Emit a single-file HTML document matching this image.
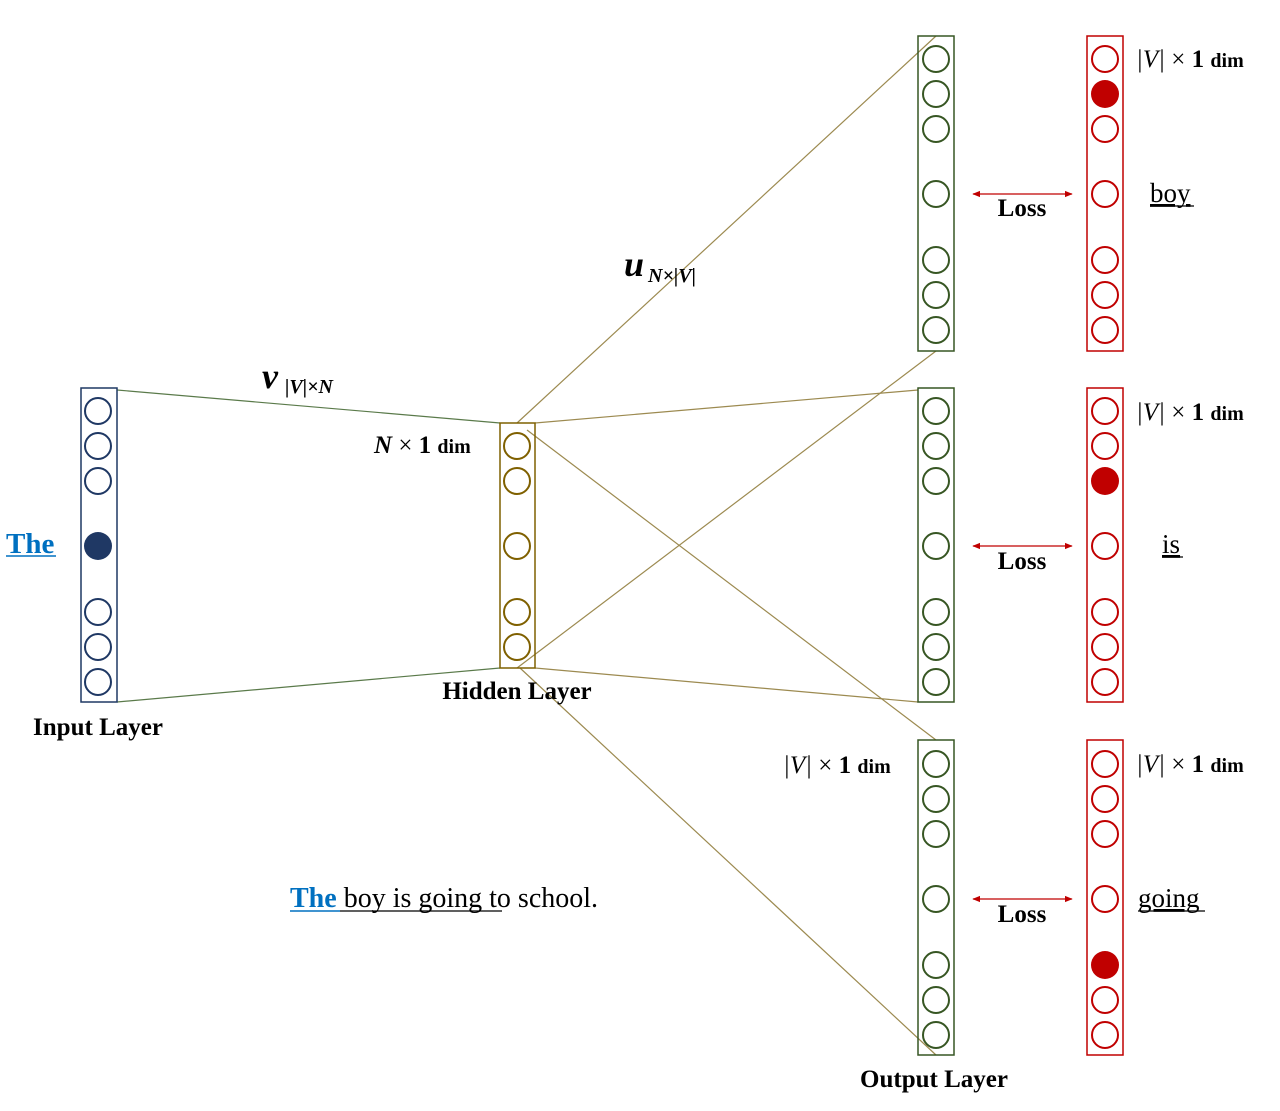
<!DOCTYPE html>
<html><head><meta charset="utf-8"><style>
html,body{margin:0;padding:0;background:#fff;}
svg text{font-family:"Liberation Serif",serif;}
</style></head><body>
<svg width="1280" height="1106" viewBox="0 0 1280 1106" xmlns="http://www.w3.org/2000/svg">
<defs>
<marker id="ar" viewBox="0 0 10 10" refX="9" refY="5" markerWidth="6" markerHeight="6" orient="auto-start-reverse"><path d="M0,1 L10,5 L0,9 z" fill="#c00000"/></marker>
</defs>
<!-- connectors -->
<g stroke-width="1.2" fill="none">
<line x1="117" y1="390" x2="500" y2="423" stroke="#5a7a4a"/>
<line x1="117" y1="702" x2="500" y2="668" stroke="#5a7a4a"/>
<g stroke="#9c8a50">
<line x1="517" y1="423" x2="936" y2="36"/>
<line x1="535" y1="423" x2="918" y2="390"/>
<line x1="527" y1="430" x2="936" y2="740"/>
<line x1="517" y1="668" x2="936" y2="351"/>
<line x1="535" y1="668" x2="918" y2="702"/>
<line x1="520" y1="668" x2="936" y2="1055"/>
</g>
</g>
<!-- input layer -->
<rect x="81" y="388" width="36" height="314" fill="none" stroke="#1f3864" stroke-width="1.5"/>
<g fill="none" stroke="#1f3864" stroke-width="2">
<circle cx="98" cy="411" r="13"/><circle cx="98" cy="446" r="13"/><circle cx="98" cy="481" r="13"/>
<circle cx="98" cy="612" r="13"/><circle cx="98" cy="647" r="13"/><circle cx="98" cy="682" r="13"/>
</g>
<circle cx="98" cy="546" r="14" fill="#1f3864"/>
<!-- hidden -->
<rect x="500" y="423" width="35" height="245" fill="none" stroke="#7f6000" stroke-width="1.5"/>
<g fill="none" stroke="#7f6000" stroke-width="2">
<circle cx="517" cy="446" r="13"/><circle cx="517" cy="481" r="13"/><circle cx="517" cy="546" r="13"/>
<circle cx="517" cy="612" r="13"/><circle cx="517" cy="647" r="13"/>
</g>
<!-- output boxes -->
<g fill="none" stroke="#375623" stroke-width="1.5">
<rect x="918" y="36" width="36" height="315"/>
<rect x="918" y="388" width="36" height="314"/>
<rect x="918" y="740" width="36" height="315"/>
</g>
<g fill="none" stroke="#375623" stroke-width="2">
<circle cx="936" cy="59" r="13"/><circle cx="936" cy="94" r="13"/><circle cx="936" cy="129" r="13"/><circle cx="936" cy="194" r="13"/><circle cx="936" cy="260" r="13"/><circle cx="936" cy="295" r="13"/><circle cx="936" cy="330" r="13"/>
<circle cx="936" cy="411" r="13"/><circle cx="936" cy="446" r="13"/><circle cx="936" cy="481" r="13"/><circle cx="936" cy="546" r="13"/><circle cx="936" cy="612" r="13"/><circle cx="936" cy="647" r="13"/><circle cx="936" cy="682" r="13"/>
<circle cx="936" cy="764" r="13"/><circle cx="936" cy="799" r="13"/><circle cx="936" cy="834" r="13"/><circle cx="936" cy="899" r="13"/><circle cx="936" cy="965" r="13"/><circle cx="936" cy="1000" r="13"/><circle cx="936" cy="1035" r="13"/>
</g>
<!-- red boxes -->
<g fill="none" stroke="#c00000" stroke-width="1.5">
<rect x="1087" y="36" width="36" height="315"/>
<rect x="1087" y="388" width="36" height="314"/>
<rect x="1087" y="740" width="36" height="315"/>
</g>
<g fill="none" stroke="#c00000" stroke-width="2">
<circle cx="1105" cy="59" r="13"/><circle cx="1105" cy="129" r="13"/><circle cx="1105" cy="194" r="13"/><circle cx="1105" cy="260" r="13"/><circle cx="1105" cy="295" r="13"/><circle cx="1105" cy="330" r="13"/>
<circle cx="1105" cy="411" r="13"/><circle cx="1105" cy="446" r="13"/><circle cx="1105" cy="546" r="13"/><circle cx="1105" cy="612" r="13"/><circle cx="1105" cy="647" r="13"/><circle cx="1105" cy="682" r="13"/>
<circle cx="1105" cy="764" r="13"/><circle cx="1105" cy="799" r="13"/><circle cx="1105" cy="834" r="13"/><circle cx="1105" cy="899" r="13"/><circle cx="1105" cy="1000" r="13"/><circle cx="1105" cy="1035" r="13"/>
</g>
<g fill="#c00000">
<circle cx="1105" cy="94" r="14"/><circle cx="1105" cy="481" r="14"/><circle cx="1105" cy="965" r="14"/>
</g>
<!-- loss arrows -->
<g stroke="#c00000" stroke-width="1.3" marker-start="url(#ar)" marker-end="url(#ar)">
<line x1="973" y1="194" x2="1072" y2="194"/>
<line x1="973" y1="546" x2="1072" y2="546"/>
<line x1="973" y1="899" x2="1072" y2="899"/>
</g>
<g font-weight="bold" font-size="25" text-anchor="middle" fill="#000">
<text x="1022" y="216">Loss</text>
<text x="1022" y="569">Loss</text>
<text x="1022" y="922">Loss</text>
<text x="98" y="735">Input Layer</text>
<text x="517" y="699">Hidden Layer</text>
<text x="934" y="1087">Output Layer</text>
</g>
<!-- dims -->
<g font-size="25" fill="#000">
<text x="1136" y="67"><tspan font-style="italic">|V|</tspan> × <tspan font-weight="bold">1</tspan> <tspan font-weight="bold" font-size="20">dim</tspan></text>
<text x="1136" y="420"><tspan font-style="italic">|V|</tspan> × <tspan font-weight="bold">1</tspan> <tspan font-weight="bold" font-size="20">dim</tspan></text>
<text x="1136" y="772"><tspan font-style="italic">|V|</tspan> × <tspan font-weight="bold">1</tspan> <tspan font-weight="bold" font-size="20">dim</tspan></text>
<text x="783" y="773"><tspan font-style="italic">|V|</tspan> × <tspan font-weight="bold">1</tspan> <tspan font-weight="bold" font-size="20">dim</tspan></text>
<text x="374" y="453"><tspan font-style="italic" font-weight="bold">N</tspan> × <tspan font-weight="bold">1</tspan> <tspan font-weight="bold" font-size="20">dim</tspan></text>
</g>
<g font-size="27" fill="#000" text-decoration="underline">
<text x="1150" y="202" text-decoration="underline">boy</text>
<text x="1162" y="553" text-decoration="underline">is</text>
<text x="1138" y="907" text-decoration="underline">going</text>
</g>
<line x1="1150" y1="206" x2="1194" y2="206" stroke="#000" stroke-width="1.2"/>
<line x1="1162" y1="557" x2="1183" y2="557" stroke="#000" stroke-width="1.2"/>
<line x1="1138" y1="911" x2="1205" y2="911" stroke="#000" stroke-width="1.2"/>
<!-- The -->
<text x="6" y="553" font-size="29" font-weight="bold" fill="#0070c0">The</text>
<line x1="6" y1="556" x2="56" y2="556" stroke="#0070c0" stroke-width="1.5"/>
<!-- weights -->
<text x="262" y="388" font-size="36" font-style="italic" font-weight="bold">v</text>
<text x="285" y="393" font-size="20" font-style="italic" font-weight="bold">|V|×N</text>
<text x="624" y="276" font-size="36" font-style="italic" font-weight="bold">u</text>
<text x="648" y="282" font-size="20" font-style="italic" font-weight="bold">N×|V|</text>
<!-- sentence -->
<text x="290" y="907" font-size="28"><tspan font-weight="bold" fill="#0070c0">The</tspan> boy is going to school.</text>
<line x1="290" y1="911" x2="340" y2="911" stroke="#0070c0" stroke-width="1.5"/>
<line x1="340" y1="911" x2="502" y2="911" stroke="#000" stroke-width="1.2"/>
</svg>
</body></html>
